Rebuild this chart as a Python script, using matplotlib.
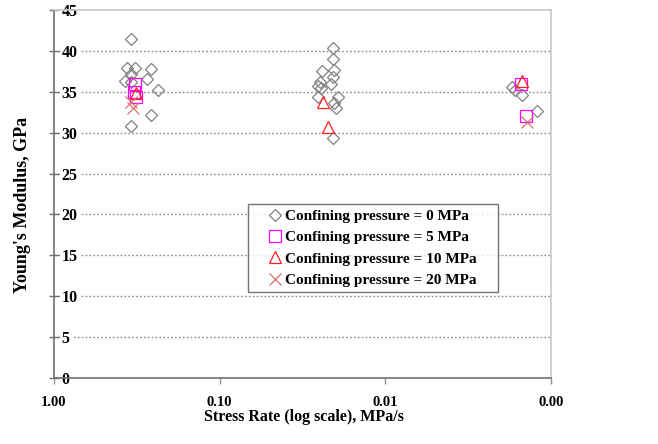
import matplotlib
matplotlib.use("Agg")
import matplotlib.pyplot as plt

plt.rcParams['font.family'] = ['Liberation Serif', 'DejaVu Serif']
plt.rcParams['font.weight'] = 'bold'

# ---- data (stress rate MPa/s, Young's modulus GPa) ----
rate_0mpa = [0.3404, 0.3648, 0.3251, 0.2578, 0.3404, 0.2742, 0.3736, 0.3437, 0.2353, 0.2578, 0.3404,
             0.02077, 0.02077, 0.02028, 0.02406, 0.02077, 0.02473, 0.02558, 0.02124, 0.02430, 0.02558,
             0.01938, 0.02028, 0.01981, 0.02077,
             0.001710, 0.001648, 0.001489, 0.001209]
mod_0mpa = [41.5, 37.9, 37.9, 37.8, 37.2, 36.5, 36.3, 36.2, 35.2, 32.2, 30.8,
            40.4, 39.0, 37.7, 37.5, 36.8, 36.2, 35.7, 35.9, 35.5, 34.4,
            34.3, 33.6, 33.0, 29.3,
            35.6, 35.2, 34.6, 32.7]

rate_5mpa = [0.3251, 0.3297, 0.3206, 0.001523, 0.001420]
mod_5mpa = [35.9, 35.0, 34.4, 36.0, 32.0]

rate_10mpa = [0.3206, 0.02362, 0.02228, 0.001489]
mod_10mpa = [34.8, 33.8, 30.7, 36.3]

rate_20mpa = [0.3404, 0.3329, 0.001389]
mod_20mpa = [33.8, 33.0, 31.3]

labels = ["Confining pressure = 0 MPa", "Confining pressure = 5 MPa",
          "Confining pressure = 10 MPa", "Confining pressure = 20 MPa"]
x_ticks = [1.0, 0.1, 0.01, 0.001]
x_ticklabels = ["1.00", "0.10", "0.01", "0.00"]
y_ticks = [0, 5, 10, 15, 20, 25, 30, 35, 40, 45]

fig = plt.figure(figsize=(6.58, 4.44), dpi=100)
ax = fig.add_axes([0.082, 0.1486, 0.7553, 0.829])

ax.plot(rate_0mpa, mod_0mpa, linestyle='none', marker='D', markersize=6.5,
        markerfacecolor='none', markeredgecolor='#808080', markeredgewidth=0.9, label=labels[0])
ax.plot(rate_5mpa, mod_5mpa, linestyle='none', marker='s', markersize=8,
        markerfacecolor='none', markeredgecolor='#FF00FF', markeredgewidth=0.9, label=labels[1])
ax.plot(rate_10mpa, mod_10mpa, linestyle='none', marker='^', markersize=9,
        markerfacecolor='none', markeredgecolor='#FF2020', markeredgewidth=0.9, label=labels[2])
ax.plot(rate_20mpa, mod_20mpa, linestyle='none', marker='x', markersize=8,
        markerfacecolor='none', markeredgecolor='#D87070', markeredgewidth=0.9, label=labels[3])

ax.set_xscale('log')
ax.set_xlim(1.0, 0.001)
ax.set_ylim(0, 45)
ax.set_xticks(x_ticks)
ax.set_xticklabels(x_ticklabels)
ax.minorticks_off()
ax.set_yticks(y_ticks)

for v in y_ticks[1:-1]:
    ax.axhline(v, color='#8a8a8a', linestyle=(0, (1.2, 1.6)), linewidth=1.0, zorder=0)

for s in ['top', 'right']:
    ax.spines[s].set_color('#c8c8c8')
    ax.spines[s].set_linewidth(1.2)
for s in ['left', 'bottom']:
    ax.spines[s].set_color('#707070')
    ax.spines[s].set_linewidth(1.2)

ax.tick_params(axis='y', direction='inout', length=7, width=1, color='#707070',
               labelsize=11.5, pad=-9)
ax.tick_params(axis='x', direction='out', length=4, width=1, color='#909090',
               labelsize=10.5, pad=9)
for lab in ax.get_yticklabels():
    lab.set_horizontalalignment('left')
    lab.set_fontweight('bold')
    lab.set_bbox(dict(facecolor='white', edgecolor='none', pad=1.5))
for lab in ax.get_xticklabels():
    lab.set_fontweight('bold')

ax.set_ylabel("Young's Modulus, GPa", fontsize=13, fontweight='bold')
ax.yaxis.set_label_coords(-0.046, 0.47)
ax.set_xlabel("Stress Rate (log scale), MPa/s", fontsize=11.5, fontweight='bold')
ax.xaxis.set_label_coords(0.503, -0.084)

leg = ax.legend(loc='upper left', bbox_to_anchor=(0.3903, 0.0, 0.503, 0.4728), mode='expand',
                prop={'weight': 'bold', 'size': 11}, frameon=True, fancybox=False,
                edgecolor='#505050', handlelength=2.9, handletextpad=-0.8,
                borderpad=0.35, labelspacing=0.5, borderaxespad=0)
leg.get_frame().set_linewidth(1.0)

fig.savefig("out.png", dpi=100)
